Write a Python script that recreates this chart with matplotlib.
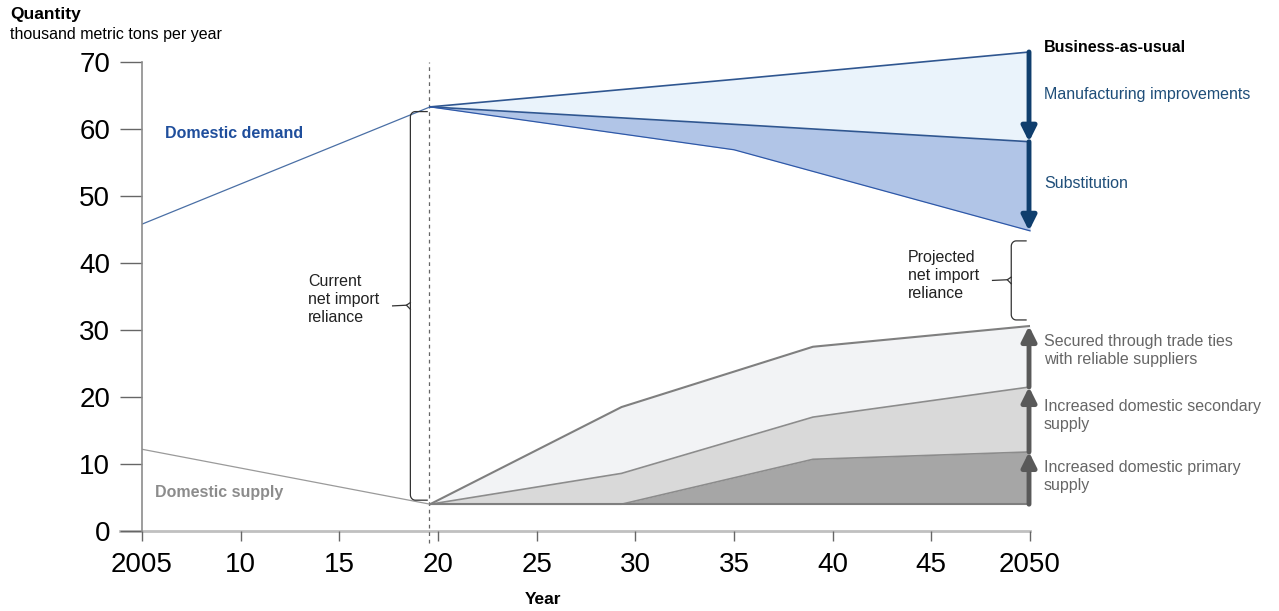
import numpy as np
import matplotlib.pyplot as plt
from matplotlib.lines import Line2D

plt.rcParams['font.family'] = ['Liberation Sans', 'DejaVu Sans']

# historical lines
hist_years = [2005, 2019.6]
demand_hist = [45.8, 63.3]
supply_hist = [12.2, 4.0]

# demand projections
proj_years = [2019.6, 2035, 2050]
bau = [63.3, 67.4, 71.5]
manufacturing = [63.3, 60.7, 58.1]
substitution = [63.3, 56.9, 44.8]

# supply projections (stacked tops)
supply_years = [2019.6, 2029.3, 2039, 2050]
base = [4.0, 4.0, 4.0, 4.0]
primary = [4.0, 4.0, 10.7, 11.8]
secondary = [4.0, 8.6, 17.0, 21.5]
trade = [4.0, 18.5, 27.5, 30.6]

xticks = [2005, 2010, 2015, 2020, 2025, 2030, 2035, 2040, 2045, 2050]
xticklabels = ['2005', '10', '15', '20', '25', '30', '35', '40', '45', '2050']
yticks = [0, 10, 20, 30, 40, 50, 60, 70]

W, H = 1279, 611
fig = plt.figure(figsize=(W / 100, H / 100), dpi=100)
ax = fig.add_axes([142 / W, 1 - 531 / H, (1030 - 142) / W, (531 - 62) / H])
ax.set_xlim(2005, 2050)
ax.set_ylim(0, 70)

for s in ['top', 'right', 'bottom']:
    ax.spines[s].set_visible(False)
ax.spines['left'].set_color('#8c8c8c')
ax.spines['left'].set_linewidth(1.2)

ax.set_yticks(yticks)
ax.set_xticks(xticks)
ax.set_xticklabels(xticklabels)
ax.tick_params(axis='y', length=16, width=1, color='#666666', pad=7, labelsize=20)
ax.tick_params(axis='x', length=7, width=1, color='#666666', pad=8, labelsize=20)

# bottom axis line extending left
ax.add_line(Line2D([-0.025, 1.0], [0, 0], transform=ax.transAxes, color='#c0c0c0',
                   lw=2, clip_on=False, zorder=1))

# dashed reference line
ax.plot([2019.55, 2019.55], [-1.8, 70], ls=(0, (3, 3)), color='#666666', lw=0.9,
        clip_on=False, zorder=2)

# historical
ax.plot(hist_years, demand_hist, color='#4a6fa5', lw=0.9)
ax.plot(hist_years, supply_hist, color='#9a9a9a', lw=0.9)

# demand projections
ax.fill_between(proj_years, manufacturing, bau, color='#eaf3fb', lw=0, zorder=2, clip_on=False)
ax.fill_between(proj_years, substitution, manufacturing, color='#b1c5e7', lw=0, zorder=2,
                clip_on=False)
ax.plot(proj_years, bau, color='#2f5690', lw=1.2, zorder=3, clip_on=False)
ax.plot(proj_years, manufacturing, color='#2f5690', lw=1.2, zorder=3, clip_on=False)
ax.plot(proj_years, substitution, color='#2e58a8', lw=0.9, zorder=3, clip_on=False)

# supply projections
ax.fill_between(supply_years, secondary, trade, color='#f2f3f5', lw=0, zorder=2)
ax.fill_between(supply_years, primary, secondary, color='#d9d9d9', lw=0, zorder=2)
ax.fill_between(supply_years, base, primary, color='#a6a6a6', lw=0, zorder=2)
ax.plot(supply_years, trade, color='#7f7f7f', lw=1.5, zorder=3)
ax.plot(supply_years, secondary, color='#8c8c8c', lw=1.2, zorder=3)
ax.plot(supply_years, primary, color='#8c8c8c', lw=1.2, zorder=3)
ax.plot(supply_years, base, color='#7f7f7f', lw=1.5, zorder=3)

# arrows at 2050
def arrow(y0, y1, color):
    ax.annotate('', xy=(2049.95, y1), xytext=(2049.95, y0),
                arrowprops=dict(arrowstyle='-|>', color=color, lw=3.5,
                                mutation_scale=22, shrinkA=0, shrinkB=0),
                annotation_clip=False, zorder=5)

arrow(bau[-1], manufacturing[-1], '#0f3e6d')
arrow(manufacturing[-1], substitution[-1], '#0f3e6d')
arrow(base[-1], primary[-1], '#595959')
arrow(primary[-1], secondary[-1], '#595959')
arrow(secondary[-1], trade[-1], '#595959')

# braces
def brace(x, y0, y1, w, tick, color='#333333'):
    ym = (y0 + y1) / 2
    ry, rx = 0.8, 0.25
    t = np.linspace(0, np.pi / 2, 10)
    top_x = x + rx - rx * np.sin(t)
    top_y = y1 - ry + ry * np.cos(t)
    bot_x = x + rx - rx * np.sin(t)
    bot_y = y0 + ry - ry * np.cos(t)
    xs = np.concatenate([[x + w], top_x, [x], bot_x[::-1], [x + w]])
    ys = np.concatenate([[y1], top_y, [ym], bot_y[::-1], [y0]])
    ax.plot(xs, ys, color=color, lw=0.9, clip_on=False, zorder=4)
    ax.plot([x - tick, x - 0.2, x], [ym, ym + 0.1, ym + 0.5], color=color, lw=0.9,
            clip_on=False, zorder=4)
    ax.plot([x - 0.2, x], [ym + 0.1, ym - 0.5], color=color, lw=0.9, clip_on=False, zorder=4)

brace(2018.6, 4.6, 62.6, 0.85, 0.9)
brace(2049.05, 31.5, 43.3, 0.75, 0.95)

# labels
tc = '#1f4e79'
gc = '#666666'
ax.text(2050.7, 72.2, 'Business-as-usual', fontsize=11.5, fontweight='bold', color='black',
        va='center', ha='left', clip_on=False)
ax.text(2050.7, 65.1, 'Manufacturing improvements', fontsize=11.5, color=tc,
        va='center', ha='left', clip_on=False)
ax.text(2050.7, 51.8, 'Substitution', fontsize=11.5, color=tc,
        va='center', ha='left', clip_on=False)
ax.text(2050.7, 27.0, 'Secured through trade ties\nwith reliable suppliers', fontsize=11.5,
        color=gc, va='center', ha='left', linespacing=1.25, clip_on=False)
ax.text(2050.7, 17.3, 'Increased domestic secondary\nsupply', fontsize=11.5,
        color=gc, va='center', ha='left', linespacing=1.25, clip_on=False)
ax.text(2050.7, 8.2, 'Increased domestic primary\nsupply', fontsize=11.5,
        color=gc, va='center', ha='left', linespacing=1.25, clip_on=False)

ax.text(2006.17, 59.3, 'Domestic demand', fontsize=11.5, fontweight='bold', color='#1f4e9c',
        va='center', ha='left')
ax.text(2005.66, 5.7, 'Domestic supply', fontsize=11.5, fontweight='bold', color='#8c8c8c',
        va='center', ha='left')
ax.text(2013.4, 34.5, 'Current\nnet import\nreliance', fontsize=11.5, color='#222222',
        va='center', ha='left', linespacing=1.25)
ax.text(2043.8, 38.2, 'Projected\nnet import\nreliance', fontsize=11.5, color='#222222',
        va='center', ha='left', linespacing=1.25)

fig.text(10 / W, 1 - 14 / H, 'Quantity', fontsize=12.5, fontweight='bold', va='center', ha='left')
fig.text(10 / W, 1 - 34 / H, 'thousand metric tons per year', fontsize=11.5, va='center', ha='left')
fig.text(543 / W, 1 - 599 / H, 'Year', fontsize=12.5, fontweight='bold', va='center', ha='center')

fig.savefig('out.png', dpi=100)
